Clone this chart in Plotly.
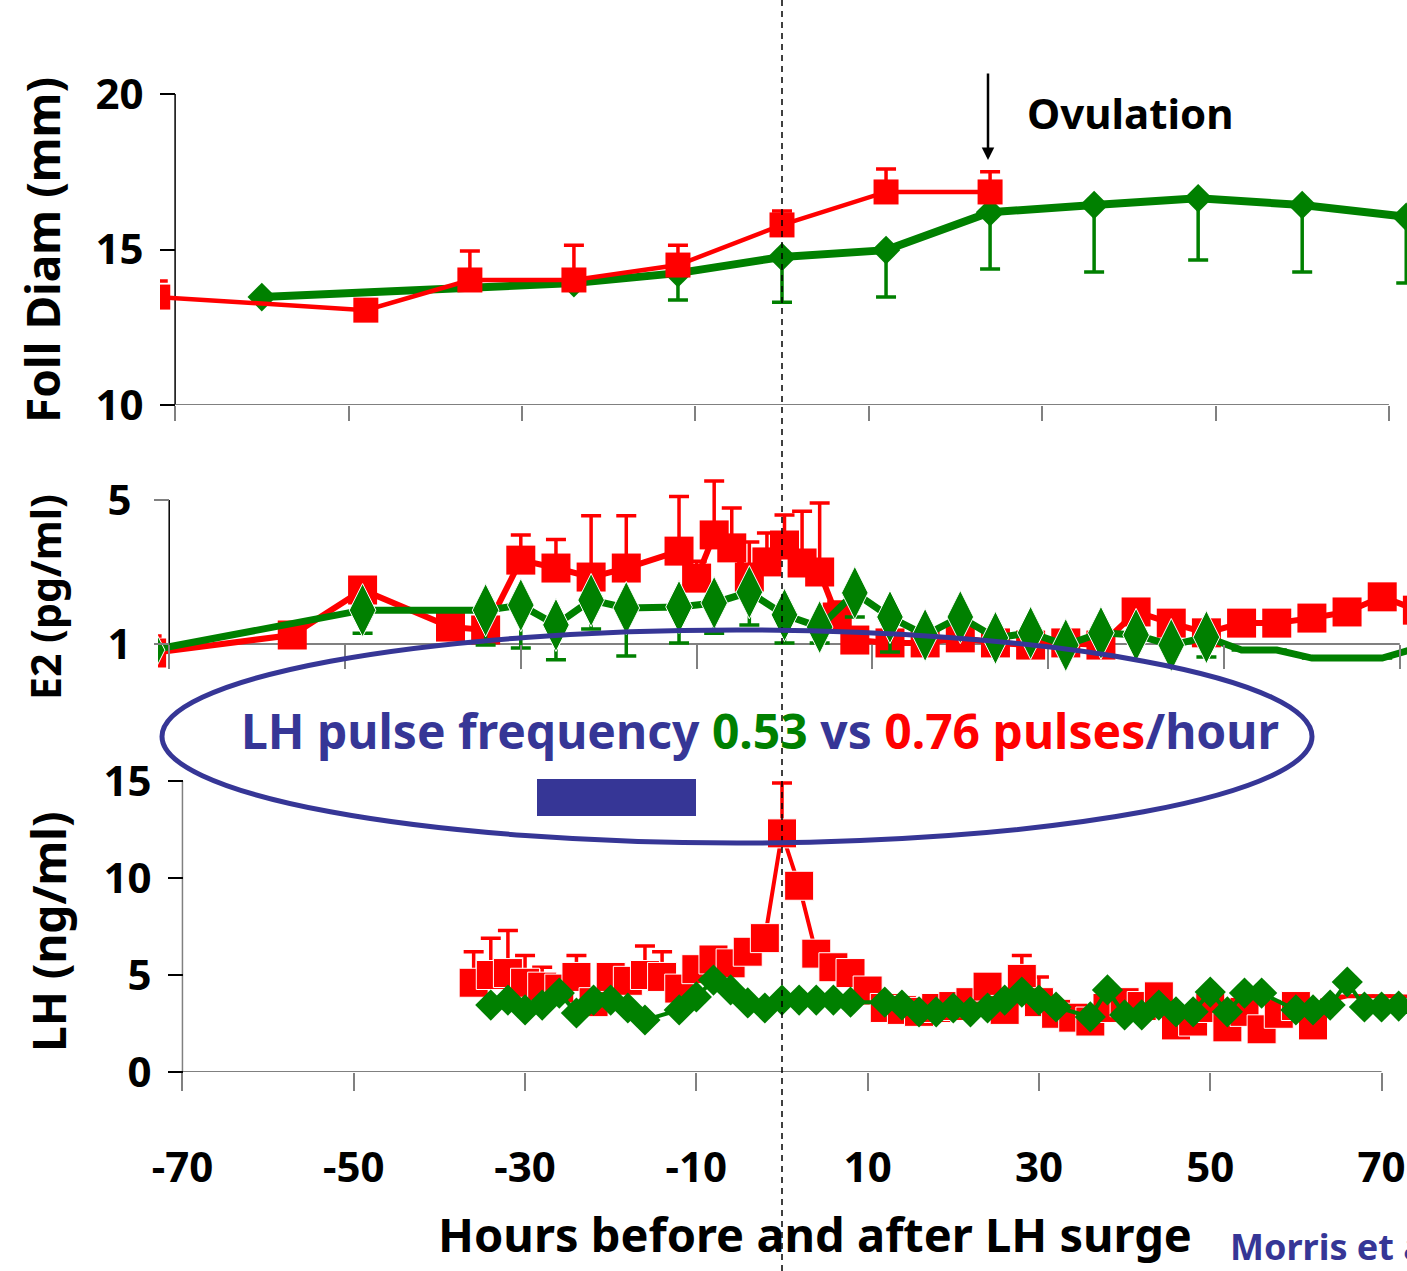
import plotly.graph_objects as go

W, H = 1407, 1271
def X(px): return px / W
def Y(py): return 1 - py / H

# ---------------- data ----------------
# Follicle diameter (mm)
foll_red_x = [-72, -48, -36, -24, -12, 0, 12, 24]
foll_red_y = [13.47, 13.05, 14.02, 14.02, 14.5, 15.79, 16.85, 16.85]
foll_red_hi = [13.99, None, 14.95, 15.14, 15.14, 16.24, 17.59, 17.5]

foll_grn_x = [-60, -24, -12, 0, 12, 24, 36, 48, 60, 72]
foll_grn_y = [13.47, 13.92, 14.24, 14.76, 14.98, 16.2, 16.43, 16.65, 16.43, 16.05]
foll_grn_lo = [None, None, 13.38, 13.3, 13.47, 14.37, 14.28, 14.66, 14.28, 13.92]

# Estradiol (pg/ml)
e2_red_x = [-72, -56, -48, -38, -34, -30, -26, -22, -18, -12, -10, -8, -6, -4, -2, 0, 2, 4, 6, 8,
            12, 16, 20, 24, 28, 32, 36, 40, 44, 48, 52, 56, 60, 64, 68, 72]
e2_red_y = [0.75, 1.25, 2.5, 1.47, 1.39, 3.33, 3.11, 2.86, 3.11, 3.58, 2.83, 4.03, 3.67, 2.86, 3.28,
            3.75, 3.25, 3.0, 1.75, 1.11, 1.03, 1.03, 1.17, 1.03, 0.97, 1.03, 0.97, 1.89, 1.58, 1.31,
            1.58, 1.58, 1.72, 1.89, 2.31, 1.94]
e2_red_hi = [1.22, None, None, None, None, 4.03, 3.9, 4.56, 4.56, 5.1, 3.3, 5.53, 4.78, 3.83, 4.08,
             4.58, 4.69, 4.92, 2.17, None, None, None, None, None, None, None, None, None, None, None,
             None, None, None, None, None, None]

e2_grn_x = [-72, -48, -34, -30, -26, -22, -18, -12, -8, -4, 0, 4, 8, 12, 16, 20, 24, 28, 32, 36,
            40, 44, 48, 52, 56, 60, 64, 68, 72]
e2_grn_y = [0.83, 1.94, 1.94, 2.08, 1.53, 2.22, 2.0, 2.03, 2.14, 2.44, 1.81, 1.47, 2.42, 1.75, 1.25,
            1.75, 1.17, 1.31, 0.97, 1.31, 1.25, 0.97, 1.19, 0.83, 0.83, 0.61, 0.61, 0.61, 0.89]
e2_grn_lo = [None, 1.3, 0.97, 0.89, 0.56, 1.42, 0.67, 1.03, 1.3, 1.53, 1.03, 1.03, 1.75, 0.78, None,
             None, None, None, None, None, None, None, 0.64, None, None, None, None, None, None]

# LH (ng/ml)
lh_red_x = list(range(-36, 73, 2))
lh_red_y = [4.6, 5.0, 5.1, 4.6, 4.4, 4.3, 4.9, 3.6, 4.9, 4.7, 5.0, 4.9, 4.3, 5.3, 5.8, 5.6, 6.2, 6.9,
            12.3, 9.6, 6.1, 5.4, 5.1, 4.2, 3.3, 3.2, 3.1, 3.3, 3.4, 3.6, 4.4, 3.2, 4.8, 3.6, 3.0, 2.8,
            2.6, 3.3, 3.6, 3.4, 3.9, 2.4, 2.6, 3.3, 2.3, 3.1, 2.2, 3.0, 3.4, 2.4, 3.7, 3.9, 3.9, 3.9,
            3.9]
lh_red_hi = {-36: 6.2, -34: 6.9, -32: 7.3, -30: 6.0, -28: 5.4, -24: 6.0, -16: 6.5, -14: 6.2,
             0: 14.9, 28: 6.0, 30: 4.9}

lh_grn_x = [-34, -32, -30, -28, -26, -24, -22, -20, -18, -16, -12, -10, -8, -6, -4, -2, 0, 2, 4, 6,
            8, 12, 14, 16, 18, 20, 22, 24, 26, 28, 30, 32, 36, 38, 40, 42, 44, 46, 48, 50, 52, 54,
            56, 60, 62, 64, 66, 68, 70, 72]
lh_grn_y = [3.45, 3.71, 3.2, 3.45, 4.07, 3.04, 3.71, 3.71, 3.3, 2.68, 3.2, 3.87, 4.74, 4.23, 3.56,
            3.3, 3.71, 3.71, 3.71, 3.71, 3.6, 3.6, 3.45, 3.1, 3.1, 3.3, 3.1, 3.3, 3.71, 4.12, 3.71,
            3.35, 2.84, 4.23, 2.94, 2.94, 3.45, 3.1, 3.1, 4.12, 3.1, 4.07, 4.07, 3.2, 3.2, 3.45, 4.64,
            3.35, 3.35, 3.4]

x_ticks = [-70, -50, -30, -10, 10, 30, 50, 70]
x_tick_labels = [str(v) for v in x_ticks]

RED = "#FF0000"
GREEN = "#008000"
BLUE = "#363696"
FONT = "Noto Sans"
nan = float("nan")

def up_err(y, hi):
    plus = [(h - v) if h is not None else nan for v, h in zip(y, hi)]
    minus = [0 if h is not None else nan for h in hi]
    return plus, minus

def down_err(y, lo):
    minus = [(v - l) if l is not None else nan for v, l in zip(y, lo)]
    plus = [0 if l is not None else nan for l in lo]
    return plus, minus

fig = go.Figure()

# ---- top panel ----
p, m = down_err(foll_grn_y, foll_grn_lo)
fig.add_trace(go.Scatter(x=foll_grn_x, y=foll_grn_y, mode="lines+markers", xaxis="x", yaxis="y",
                         line=dict(color=GREEN, width=8),
                         marker=dict(symbol="diamond", size=22, color=GREEN, opacity=1),
                         error_y=dict(type="data", symmetric=False, array=p, arrayminus=m,
                                      color=GREEN, thickness=3.5, width=10),
                         showlegend=False))
p, m = up_err(foll_red_y, foll_red_hi)
fig.add_trace(go.Scatter(x=foll_red_x, y=foll_red_y, mode="lines+markers", xaxis="x", yaxis="y",
                         line=dict(color=RED, width=4.5),
                         marker=dict(symbol="square", size=25, color=RED, opacity=1),
                         error_y=dict(type="data", symmetric=False, array=p, arrayminus=m,
                                      color=RED, thickness=3.5, width=10),
                         showlegend=False))

# ---- middle panel ----
p, m = up_err(e2_red_y, e2_red_hi)
fig.add_trace(go.Scatter(x=e2_red_x, y=e2_red_y, mode="lines+markers", xaxis="x2", yaxis="y2",
                         line=dict(color=RED, width=6),
                         marker=dict(symbol="square", size=29, color=RED, opacity=1),
                         error_y=dict(type="data", symmetric=False, array=p, arrayminus=m,
                                      color=RED, thickness=3.5, width=10),
                         showlegend=False))
p, m = down_err(e2_grn_y, e2_grn_lo)
fig.add_trace(go.Scatter(x=e2_grn_x, y=e2_grn_y, mode="lines+markers", xaxis="x2", yaxis="y2",
                         line=dict(color=GREEN, width=7),
                         marker=dict(symbol="diamond-tall", color=GREEN, opacity=1,
                                     size=[0 if xv > 50 else 38 for xv in e2_grn_x]),
                         error_y=dict(type="data", symmetric=False, array=p, arrayminus=m,
                                      color=GREEN, thickness=3.5, width=10),
                         showlegend=False))

# ---- bottom panel ----
hi = [lh_red_hi.get(xv) for xv in lh_red_x]
p, m = up_err(lh_red_y, hi)
fig.add_trace(go.Scatter(x=lh_red_x, y=lh_red_y, mode="lines+markers", xaxis="x3", yaxis="y3",
                         line=dict(color=RED, width=4),
                         marker=dict(symbol="square", color=RED, opacity=1,
                                     size=[0 if xv > 62 else 29 for xv in lh_red_x]),
                         error_y=dict(type="data", symmetric=False, array=p, arrayminus=m,
                                      color=RED, thickness=3.5, width=10),
                         showlegend=False))
fig.add_trace(go.Scatter(x=lh_grn_x, y=lh_grn_y, mode="lines+markers", xaxis="x3", yaxis="y3",
                         line=dict(color=GREEN, width=4),
                         marker=dict(symbol="diamond", size=24, color=GREEN, opacity=1),
                         showlegend=False))

# ---------------- axes ----------------
tick_font = dict(family=FONT, size=42, color="black", weight="bold")

def xr(px0, px1, zero, scale):
    return [(px0 - zero) / scale, (px1 - zero) / scale]

common_x = dict(showgrid=False, zeroline=False, showline=False, ticks="outside",
                tickmode="array", tickvals=x_ticks, ticktext=x_tick_labels,
                tickcolor="#808080", tickwidth=1.5, automargin=False)
common_y = dict(showgrid=False, zeroline=False, showline=False, ticks="outside",
                tickmode="array", tickwidth=1.5, tickfont=tick_font, automargin=False,
                anchor="free")

fig.update_layout(
    xaxis=dict(domain=[X(160), 1], range=xr(160, W, 782, 8.67), anchor="y",
               ticklen=15, showticklabels=False, **common_x),
    yaxis=dict(domain=[Y(405), Y(94)], range=[10, 20], position=X(175),
               ticklen=15, tickcolor="black", tickvals=[10, 15, 20],
               ticklabelstandoff=8, **common_y),
    xaxis2=dict(domain=[X(158), 1], range=xr(158, W, 784.5, 8.79), anchor="free",
                position=Y(644), ticklen=24, showticklabels=False, **common_x),
    yaxis2=dict(domain=[Y(690), Y(470)], range=[1 - 46 / 36, 1 + 174 / 36],
                position=X(169), ticklen=15, tickcolor="#808080", tickvals=[1, 5],
                ticklabelstandoff=14, **common_y),
    xaxis3=dict(domain=[X(160), 1], range=xr(160, W, 782, 8.565), anchor="y3",
                ticklen=18, showticklabels=True, tickfont=tick_font, ticklabelstandoff=41,
                **common_x),
    yaxis3=dict(domain=[Y(1072), Y(760)], range=[0, 312 / 19.4],
                position=X(183), ticklen=15, tickcolor="black",
                tickvals=[0, 5, 10, 15], ticklabelstandoff=8, **common_y),
)

shapes = [
    # axis lines
    dict(type="line", xref="x", yref="y", x0=-70, x1=-70, y0=10, y1=20,
         line=dict(color="black", width=1.5), layer="below"),
    dict(type="line", xref="x", yref="y", x0=-70, x1=70, y0=10, y1=10,
         line=dict(color="#808080", width=2), layer="below"),
    dict(type="line", xref="x2", yref="y2", x0=-70, x1=70, y0=1, y1=1,
         line=dict(color="#808080", width=2), layer="below"),
    dict(type="line", xref="x2", yref="y2", x0=-70, x1=-70, y0=1 - 24 / 36, y1=5,
         line=dict(color="black", width=1.5), layer="below"),
    dict(type="line", xref="x3", yref="y3", x0=-70, x1=70, y0=0, y1=0,
         line=dict(color="#808080", width=2), layer="below"),
    dict(type="line", xref="x3", yref="y3", x0=-70, x1=-70, y0=0, y1=15,
         line=dict(color="#808080", width=1.5), layer="below"),
    # LH surge dashed line
    dict(type="line", xref="paper", yref="paper", x0=X(782), x1=X(782), y0=0, y1=1,
         line=dict(color="black", width=1.5, dash="6px,5px")),
    # ellipse
    dict(type="circle", xref="paper", yref="paper", x0=X(162), x1=X(1312), y0=Y(843), y1=Y(630),
         line=dict(color=BLUE, width=5)),
    # pulse sampling bar
    dict(type="rect", xref="paper", yref="paper", x0=X(537), x1=X(696), y0=Y(816), y1=Y(779),
         fillcolor=BLUE, line=dict(width=0)),
]

annots = [
    dict(text="<b>Foll Diam (mm)</b>", x=X(42), y=Y(250), textangle=-90,
         font=dict(family=FONT, size=46, color="black")),
    dict(text="<b>E2 (pg/ml)</b>", x=X(45), y=Y(597), textangle=-90,
         font=dict(family=FONT, size=41, color="black")),
    dict(text="<b>LH (ng/ml)</b>", x=X(48), y=Y(932), textangle=-90,
         font=dict(family=FONT, size=46, color="black")),
    dict(text="<b>Hours before and after LH surge</b>", x=X(815), y=Y(1234),
         font=dict(family=FONT, size=47, color="black")),
    dict(text="<b>Morris et al.</b>", x=X(1228), y=Y(1246), xanchor="left",
         font=dict(family=FONT, size=36, color=BLUE)),
    dict(text="<b>Ovulation</b>", x=X(1025), y=Y(112), xanchor="left",
         font=dict(family=FONT, size=42, color="black")),
    dict(text="", x=X(988), y=Y(160), ax=0, ay=-88, showarrow=True, arrowhead=2,
         arrowsize=1, arrowwidth=2.5, arrowcolor="black"),
    dict(text=(f"<b><span style='color:{BLUE}'>LH pulse frequency </span>"
               f"<span style='color:{GREEN}'>0.53</span>"
               f"<span style='color:{BLUE}'> vs </span>"
               f"<span style='color:{RED}'>0.76 pulses</span>"
               f"<span style='color:{BLUE}'>/hour</span></b>"),
         x=X(760), y=Y(730), font=dict(family=FONT, size=48, color=BLUE)),
]
for a in annots:
    a.setdefault("xref", "paper")
    a.setdefault("yref", "paper")
    a.setdefault("showarrow", False)
    a.setdefault("xanchor", "center")
    a.setdefault("yanchor", "middle")

fig.update_layout(
    template="none",
    width=W, height=H, margin=dict(l=0, r=0, t=0, b=0, autoexpand=False),
    paper_bgcolor="white", plot_bgcolor="rgba(0,0,0,0)",
    shapes=shapes, annotations=annots, showlegend=False,
    font=dict(family=FONT),
)

fig.write_html("out.html", config={"displayModeBar": False},
               post_script="document.body.style.margin='0';document.body.style.overflow='hidden';")
